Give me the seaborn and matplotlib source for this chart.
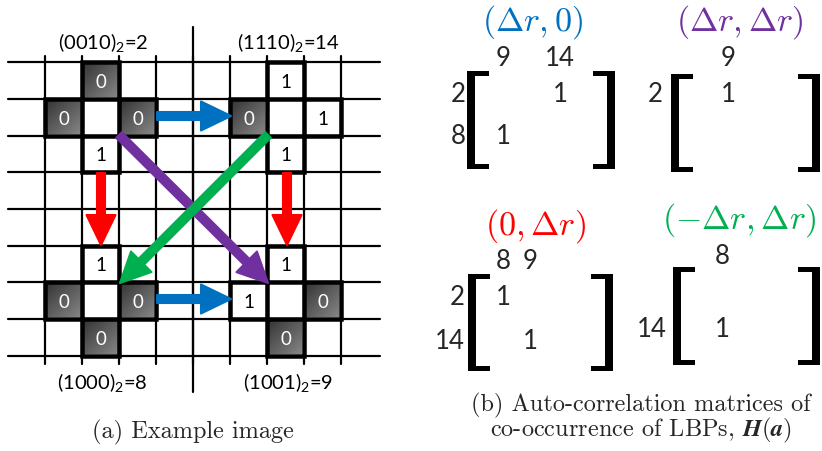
import numpy as np
import matplotlib
matplotlib.use("Agg")
import matplotlib.pyplot as plt
from matplotlib.patches import Rectangle, FancyArrow
import seaborn as sns

sns.set_theme(style="white")
plt.rcParams["font.family"] = ["Lato", "DejaVu Sans"]
plt.rcParams["mathtext.fontset"] = "custom"
plt.rcParams["mathtext.rm"] = "Lato"
plt.rcParams["mathtext.it"] = "Lato:italic"
plt.rcParams["mathtext.bf"] = "Lato:bold"

# ---- data -------------------------------------------------------------
# LBP patterns: neighbour bits in order (top, right, bottom, left)
pattern_bits = [
    [0, 0, 1, 0],   # upper-left pixel
    [1, 1, 1, 0],   # upper-right pixel
    [1, 0, 0, 0],   # lower-left pixel
    [1, 0, 0, 1],   # lower-right pixel
]
pattern_codes = [2, 14, 8, 9]

# co-occurrence matrices: column labels, row labels, non-zero entries (row, col, value)
mat_titles = [r"$(\Delta r, 0)$", r"$(\Delta r, \Delta r)$",
              r"$(0, \Delta r)$", r"$(-\Delta r, \Delta r)$"]
mat_cols = [["9", "14"], ["9"], ["8", "9"], ["8"]]
mat_rows = [["2", "8"], ["2"], ["2", "14"], ["14"]]
mat_entries = [[(0, 1, 1), (1, 0, 1)], [(0, 0, 1)],
               [(0, 0, 1), (1, 1, 1)], [(0, 0, 1)]]
mat_colors = ["#0070C0", "#7030A0", "#FF0000", "#00B050"]

# ---- layout -----------------------------------------------------------
W, H = 822, 452
fig = plt.figure(figsize=(W / 100, H / 100), dpi=100)
ax = fig.add_axes([0, 0, 1, 1])
ax.set_xlim(0, W)
ax.set_ylim(H, 0)
ax.axis("off")

PX = 0.72  # points per pixel

x0, cw = 45.0, 37.0
y0, ch = 63.3, 36.67
xs = [x0 + cw * i for i in range(9)]
ys = [y0 + ch * j for j in range(9)]

# grid lines
for y in ys:
    ax.plot([8, 380], [y, y], color="black", lw=2.2 * PX, zorder=1)
for x in xs:
    ax.plot([x, x], [57, 365], color="black", lw=2.2 * PX, zorder=1)
ax.plot([193, 193], [28, 393], color="black", lw=2.2 * PX, zorder=1)

# centre cells (column, row) of each pattern
centres = [(1, 1), (6, 1), (1, 6), (6, 6)]
offsets = [(0, -1), (1, 0), (0, 1), (-1, 0)]  # top, right, bottom, left

grad = np.add.outer(np.linspace(0, 1, 32), np.linspace(0, 1, 32)) / 2
for (cc, rr), bits in zip(centres, pattern_bits):
    for (dc, dr), b in zip(offsets, bits):
        c, r = cc + dc, rr + dr
        xl, yt = xs[c], ys[r]
        if b == 0:
            ax.imshow(0.22 + 0.3 * grad, cmap="gray", vmin=0, vmax=1,
                      extent=(xl + 2, xl + cw - 2, yt + ch - 2, yt + 2),
                      interpolation="bilinear", zorder=2, aspect="auto")
        ax.add_patch(Rectangle((xl, yt), cw, ch, fill=False, ec="black",
                               lw=4.5 * PX, zorder=3, joinstyle="miter"))
        ax.text(xl + cw / 2, yt + ch / 2 + 1, str(b), ha="center", va="center",
                fontsize=13.5, color="white" if b == 0 else "black", zorder=4)

# pattern labels
label_pos = [(103, 42), (288, 42), (102, 383), (288, 383)]
for (lx, ly), bits, code in zip(label_pos, pattern_bits, pattern_codes):
    s = "(" + "".join(str(b) for b in bits) + ")$_{2}$=" + str(code)
    ax.text(lx, ly, s, ha="center", va="center", fontsize=14.5, color="black")


def arrow(xa, ya, xb, yb, color, hw=29, hl=30):
    a = FancyArrow(xa, ya, xb - xa, yb - ya, width=8, head_width=hw,
                   head_length=hl, length_includes_head=True, color=color,
                   ec=color, lw=1.5, joinstyle="round", capstyle="round", zorder=6)
    ax.add_patch(a)


arrow(157, 117, 231, 117, "#0070C0")
arrow(157, 300, 231, 300, "#0070C0")
arrow(101, 174, 101, 246, "#FF0000")
arrow(287, 174, 287, 246, "#FF0000")
arrow(119, 136, 268, 284, "#7030A0")
arrow(268, 136, 120, 284, "#00B050")

ax.text(193, 432, "(a) Example image", ha="center", va="center",
        fontsize=17.5, family="cmr10")

# ---- matrices ---------------------------------------------------------
title_pos = [(533, 22), (740, 22), (536, 226), (739, 220)]
col_x = [[503, 560], [728], [503, 530], [722]]
col_y = [58, 58, 262, 256]
row_y = [[94, 137], [95], [298, 342], [330]]
row_right = [466, 663, 465, 667]
bracket = [(467, 615, 72, 170), (671, 820, 75, 173),
           (468, 613, 275, 372), (673, 820, 268, 366)]


def draw_bracket(xl, xr, yt, yb):
    sw, sh, sl = 8, 5, 22
    for xv, sgn in ((xl, 1), (xr, -1)):
        xo = xv if sgn > 0 else xv - sw
        ax.add_patch(Rectangle((xo, yt), sw, yb - yt, color="black", lw=0))
        xs0 = xv if sgn > 0 else xv - sl
        ax.add_patch(Rectangle((xs0, yt), sl, sh, color="black", lw=0))
        ax.add_patch(Rectangle((xs0, yb - sh), sl, sh, color="black", lw=0))


for k in range(4):
    tx, ty = title_pos[k]
    ax.text(tx, ty, mat_titles[k], ha="center", va="center", fontsize=24.5,
            color=mat_colors[k], math_fontfamily="cm")
    for lab, cx in zip(mat_cols[k], col_x[k]):
        ax.text(cx, col_y[k], lab, ha="center", va="center", fontsize=18.5)
    for lab, ry in zip(mat_rows[k], row_y[k]):
        ax.text(row_right[k], ry, lab, ha="right", va="center", fontsize=18.5)
    for r, c, v in mat_entries[k]:
        ax.text(col_x[k][c], row_y[k][r], str(v), ha="center", va="center",
                fontsize=18.5)
    draw_bracket(*bracket[k])

ax.text(641, 405, "(b) Auto-correlation matrices of", ha="center", va="center",
        fontsize=17.5, family="cmr10")
ax.text(641, 430, r"co-occurrence of LBPs, $\mathbfit{H}(\mathbfit{a})$",
        ha="center", va="center", fontsize=17.5, family="cmr10",
        math_fontfamily="cm")

fig.savefig("out.png", dpi=100, facecolor="white")
